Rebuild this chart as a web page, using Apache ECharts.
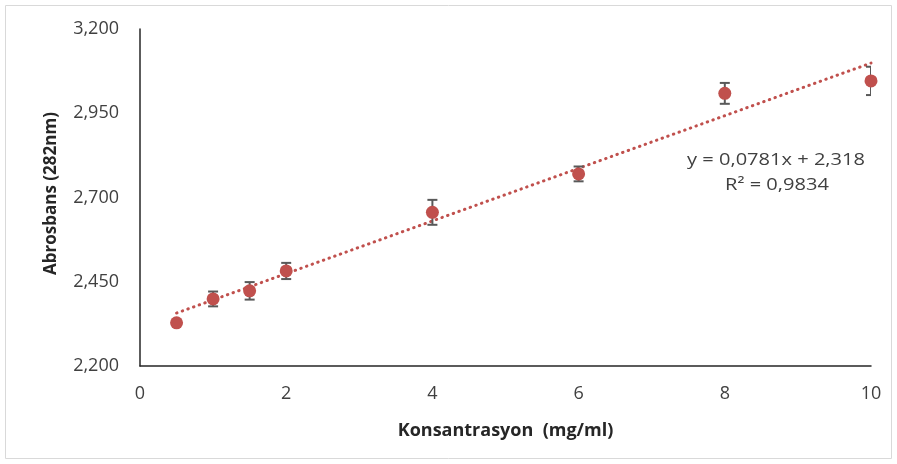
<!DOCTYPE html>
<html>
<head>
<meta charset="utf-8">
<script src="https://cdn.jsdelivr.net/npm/echarts@6/dist/echarts.min.js"></script>
<style>
html,body{margin:0;padding:0;background:#fff;}
#chart{width:897px;height:464px;}
</style>
</head>
<body>
<div id="chart"></div>
<script>
// Data
var concentrations = [0.5, 1, 1.5, 2, 4, 6, 8, 10];
var absorbance = [2.328, 2.399, 2.423, 2.482, 2.656, 2.770, 3.009, 3.046];
var errors = [0.0, 0.022, 0.026, 0.024, 0.037, 0.022, 0.031, 0.042];
var yTicks = [2.2, 2.45, 2.7, 2.95, 3.2];
var xTicks = [0, 2, 4, 6, 8, 10];
var trendSlope = 0.0781;
var trendIntercept = 2.318;
var trendRange = [0.5, 10];
var equationText = 'y = 0,0781x + 2,318';
var r2Text = 'R² = 0,9834';

var points = concentrations.map(function (x, i) { return [x, absorbance[i]]; });
var errData = concentrations.map(function (x, i) { return [x, absorbance[i] - errors[i], absorbance[i] + errors[i]]; });
var trendData = trendRange.map(function (x) { return [x, trendSlope * x + trendIntercept]; });

var FONT = '"Open Sans", sans-serif';
var chart = echarts.init(document.getElementById('chart'));
chart.setOption({
  animation: false,
  grid: { left: 140, right: 26, top: 29, bottom: 98 },
  xAxis: {
    type: 'value', min: 0, max: 10, interval: 2,
    axisLine: { lineStyle: { color: '#262626', width: 1.5 } },
    axisTick: { show: false },
    splitLine: { show: false },
    axisLabel: { color: '#404040', fontFamily: FONT, fontSize: 18, margin: 19 },
    name: 'Konsantrasyon  (mg/ml)', nameLocation: 'middle', nameGap: 56,
    nameTextStyle: { color: '#262626', fontFamily: FONT, fontSize: 18, fontWeight: 'bold' }
  },
  yAxis: {
    type: 'value', min: 2.2, max: 3.2,
    axisLine: { show: true, lineStyle: { color: '#262626', width: 1.5 } },
    axisTick: { show: false },
    splitLine: { show: false },
    axisLabel: {
      customValues: yTicks,
      color: '#404040', fontFamily: FONT, fontSize: 18, margin: 21,
      formatter: function (v) { return v.toFixed(3).replace('.', ','); }
    },
    name: 'Abrosbans (282nm)', nameLocation: 'middle', nameGap: 80, nameRotate: 90,
    nameTextStyle: { color: '#262626', fontFamily: FONT, fontSize: 17, fontWeight: 'bold', padding: [0, 0, 0, 8] }
  },
  series: [
    {
      type: 'line', data: trendData, symbol: 'none', silent: true,
      lineStyle: { color: '#C0504D', width: 3, type: [0.5, 5.5], cap: 'round' },
      z: 1
    },
    {
      type: 'custom', data: errData, z: 2, clip: true,
      renderItem: function (params, api) {
        var x = api.value(0);
        var lo = api.coord([x, api.value(1)]);
        var hi = api.coord([x, api.value(2)]);
        if (Math.abs(hi[1] - lo[1]) < 1) return null;
        var hw = 5;
        var st = { stroke: '#595959', lineWidth: 2 };
        return {
          type: 'group', children: [
            { type: 'line', shape: { x1: lo[0], y1: lo[1], x2: hi[0], y2: hi[1] }, style: st },
            { type: 'line', shape: { x1: lo[0] - hw, y1: lo[1], x2: lo[0] + hw, y2: lo[1] }, style: st },
            { type: 'line', shape: { x1: hi[0] - hw, y1: hi[1], x2: hi[0] + hw, y2: hi[1] }, style: st }
          ]
        };
      }
    },
    {
      type: 'scatter', data: points, symbol: 'circle', symbolSize: 13, z: 3,
      itemStyle: { color: '#C0504D', opacity: 1 }
    }
  ],
  graphic: [
    { type: 'rect', shape: { x: 5.5, y: 5.5, width: 886, height: 453 }, style: { fill: null, stroke: '#d9d9d9', lineWidth: 1 }, silent: true },
    { type: 'text', x: 776, y: 160, scaleX: 1.18, style: { text: equationText, font: '17px ' + FONT, fill: '#404040', textAlign: 'center', textVerticalAlign: 'middle' } },
    { type: 'text', x: 777, y: 185, scaleX: 1.18, style: { text: r2Text, font: '17px ' + FONT, fill: '#404040', textAlign: 'center', textVerticalAlign: 'middle' } }
  ]
});
</script>
</body>
</html>
